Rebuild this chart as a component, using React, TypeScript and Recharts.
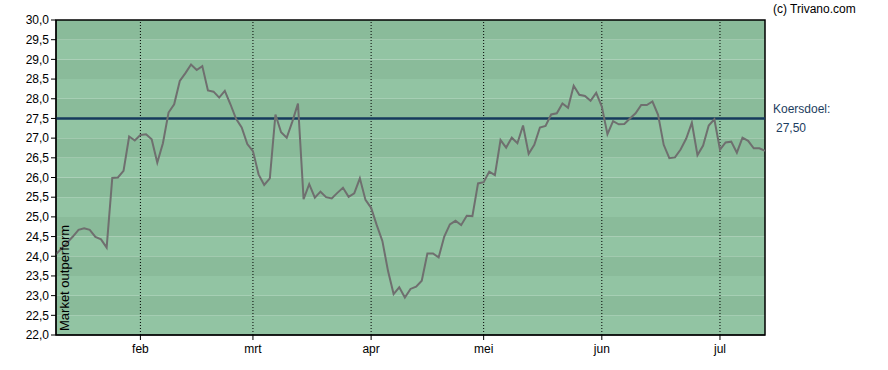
import React from "react";
import {
  LineChart,
  Line,
  XAxis,
  YAxis,
  ReferenceLine,
  ReferenceArea,
} from "recharts";

// trading-day index -> close
const prices = [
  24.05, 24.2, 24.35, 24.5, 24.67, 24.71, 24.67, 24.49, 24.43, 24.22,
  25.99, 26.0, 26.17, 27.04, 26.94, 27.08, 27.1, 26.97, 26.38, 26.87,
  27.65, 27.86, 28.45, 28.65, 28.87, 28.73, 28.83, 28.21, 28.18, 28.03,
  28.2, 27.86, 27.49, 27.27, 26.85, 26.67, 26.08, 25.81, 25.98, 27.6,
  27.15, 27.01, 27.42, 27.88, 25.45, 25.83, 25.49, 25.64, 25.5, 25.47,
  25.61, 25.74, 25.51, 25.6, 25.98, 25.43, 25.23, 24.79, 24.39, 23.63,
  23.04, 23.21, 22.95, 23.17, 23.23, 23.38, 24.07, 24.07, 23.97, 24.5,
  24.81, 24.9, 24.79, 25.03, 25.02, 25.85, 25.88, 26.15, 26.06, 26.95,
  26.76, 27.01, 26.87, 27.32, 26.6, 26.83, 27.27, 27.31, 27.6, 27.63,
  27.88, 27.77, 28.33, 28.1, 28.07, 27.95, 28.15, 27.8, 27.1, 27.43,
  27.35, 27.36, 27.5, 27.63, 27.84, 27.84, 27.93, 27.59, 26.83, 26.49,
  26.51, 26.71, 26.99, 27.39, 26.57, 26.81, 27.32, 27.48, 26.71, 26.89,
  26.91, 26.63, 27.01, 26.93, 26.74, 26.74, 26.68,
];

// first trading day of each month (index into prices)
const monthStarts = [15, 35, 56, 76, 97, 118];
const monthLabels = ["feb", "mrt", "apr", "mei", "jun", "jul"];

const yTicks = [22, 22.5, 23, 23.5, 24, 24.5, 25, 25.5, 26, 26.5, 27, 27.5, 28, 28.5, 29, 29.5, 30];

const koersdoel = 27.5;

const data = prices.map((p, i) => ({ i, price: p }));
const lastIndex = prices.length - 1;

const font = "'Liberation Sans', Arial, sans-serif";

export default function App() {
  return (
    <div style={{ position: "absolute", left: 0, top: 0, width: 888, height: 370, fontFamily: font }}>
      <LineChart
        width={888}
        height={370}
        data={data}
        margin={{ top: 20, right: 123, left: 0, bottom: 0 }}
      >
        {yTicks.slice(1).map((v) => (
          <ReferenceArea
            key={v}
            x1={0}
            x2={lastIndex}
            y1={v - 0.5}
            y2={v}
            fill={Number.isInteger(v) ? "#8abb9a" : "#92c4a3"}
            fillOpacity={1}
            stroke="none"
          />
        ))}
        {monthStarts.map((m) => (
          <ReferenceLine key={m} x={m} stroke="#000" strokeWidth={1} strokeDasharray="1 2" />
        ))}
        <XAxis
          dataKey="i"
          type="number"
          domain={[0, lastIndex]}
          ticks={monthStarts}
          tickFormatter={(v) => monthLabels[monthStarts.indexOf(v)]}
          height={35}
          tickSize={5}
          tickMargin={4}
          tick={{ fontSize: 12, fill: "#000", fontFamily: font }}
          stroke="#000"
          allowDataOverflow
        />
        <YAxis
          type="number"
          domain={[22, 30]}
          ticks={yTicks}
          width={56}
          tickSize={5}
          tickMargin={2}
          interval={0}
          tickFormatter={(v) => Number(v).toFixed(1).replace(".", ",")}
          tick={{ fontSize: 12, fill: "#000", fontFamily: font }}
          stroke="#000"
        />
        <ReferenceArea
          x1={0}
          x2={lastIndex}
          y1={22}
          y2={30}
          fill="none"
          stroke="#000"
          strokeWidth={1.5}
        />
        <ReferenceLine
          y={koersdoel}
          stroke="#163a5c"
          strokeWidth={2.5}
          label={{
            content: (props: any) => {
              const vb = props.viewBox;
              const x = vb.x + vb.width;
              return (
                <g fontFamily={font} fontSize={12} fill="#1c3d60">
                  <text x={x + 8} y={vb.y - 9} dominantBaseline="central">
                    Koersdoel:
                  </text>
                  <text x={x + 11} y={vb.y + 10} dominantBaseline="central">
                    {koersdoel.toFixed(2).replace(".", ",")}
                  </text>
                </g>
              );
            },
          }}
        />
        <Line
          type="linear"
          dataKey="price"
          stroke="#6f6f6f"
          strokeWidth={2}
          dot={false}
          isAnimationActive={false}
        />
      </LineChart>
      <svg
        width={888}
        height={370}
        style={{ position: "absolute", left: 0, top: 0, pointerEvents: "none" }}
      >
        <text x={773} y={9} fontSize={12} fontFamily={font} fill="#000" dominantBaseline="central">
          (c) Trivano.com
        </text>
        <text
          x={0}
          y={0}
          fontSize={13}
          fontFamily={font}
          fill="#000"
          transform="translate(69,331) rotate(-90)"
        >
          Market outperform
        </text>
      </svg>
    </div>
  );
}
